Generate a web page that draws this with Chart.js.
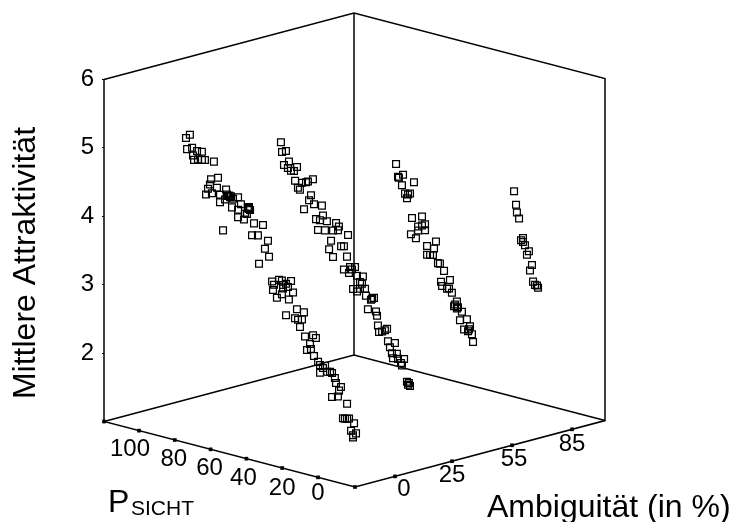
<!DOCTYPE html>
<html><head><meta charset="utf-8">
<style>html,body{margin:0;padding:0;background:#fff}canvas{display:block}</style>
<script src="https://cdn.jsdelivr.net/npm/chart.js@4"></script>
</head><body><canvas id="c" width="732" height="522"></canvas>
<script>
// P_SICHT (p) and Mittlere Attraktivitaet (z), one pair of lists per ambiguity level
const p0=[93.9,96.1,95.5,92.7,89.9,87.2,92.2,91.6,89.4,87.2,85.5,80.5,78.2,82.1,82.7,83.8,78.8,73.7,84.9,81.6,77.1,73.2,71.5,77.1,69.8,67.0,65.4,70.4,67.0,60.9,60.3,63.1,67.0,63.7,62.0,58.1,53.1,59.2,55.9,50.3,52.0,49.7,55.3,75.4,72.6,74.3,72.1,71.0,61.5,60.9,48.0,44.1,42.5,37.4,46.9,41.9,47.5,39.1,36.3,42.5,45.3,38.6,41.9,40.2,40.2,34.1,30.2,35.2,33.5,31.3,32.4,29.6,25.1,23.5,26.8,28.5,26.3,24.6,22.3,21.2,18.4,21.2,17.3,14.5,12.9,12.3,9.5,10.6,14.5,11.2,6.1,19.6,15.6,8.4,6.1,5.0,2.2,3.9,1.1,2.8,7.3,2.8];
const z0=[5.21,5.15,4.99,5.03,5.00,5.01,4.92,4.86,4.88,4.89,4.90,4.91,4.69,4.64,4.56,4.49,4.54,4.55,4.40,4.44,4.45,4.48,4.45,4.34,4.44,4.48,4.39,4.31,4.30,4.38,4.34,4.27,4.19,4.18,4.27,4.16,4.17,3.98,4.00,3.96,3.83,3.73,3.59,3.94,4.46,4.40,4.47,4.47,4.36,4.35,3.38,3.43,3.43,3.46,3.34,3.37,3.26,3.36,3.30,3.23,3.16,3.18,3.32,3.40,2.94,3.07,3.05,2.93,2.92,2.94,2.82,2.70,2.75,2.72,2.61,2.51,2.54,2.45,2.38,2.34,2.35,2.23,2.27,2.27,2.21,2.14,2.10,2.04,1.92,1.95,1.88,2.31,2.28,1.65,1.66,1.67,1.62,1.50,1.48,1.41,1.65,1.44];
const p25=[74.9,74.3,72.1,73.2,70.4,71.0,65.9,69.3,67.6,67.0,57.0,63.1,60.9,59.8,65.4,64.3,58.1,59.2,56.4,52.0,62.0,51.4,55.3,53.1,49.2,44.1,42.5,54.2,50.3,45.8,43.0,37.4,46.9,48.0,41.3,39.7,45.8,38.0,39.7,36.3,33.5,35.2,36.9,32.4,29.1,30.7,29.6,34.6,30.7,27.9,32.4,27.4,24.0,22.9,24.6,26.3,21.8,21.2,20.7,15.6,18.4,16.8,20.1,15.1,11.2,14.0,12.9,10.1,6.1,12.3,9.5,7.8,7.3,4.5,3.4,2.8,3.9];
const z25=[5.01,4.87,4.90,4.69,4.76,4.66,4.71,4.63,4.64,4.50,4.59,4.50,4.52,4.54,4.41,4.39,4.35,4.27,4.23,4.24,4.12,4.10,4.02,4.02,4.03,4.04,4.00,3.87,3.89,3.92,3.94,3.91,3.76,3.63,3.72,3.73,3.53,3.59,3.39,3.45,3.47,3.42,3.36,3.35,3.36,3.27,3.25,3.14,3.17,3.19,3.12,3.09,3.07,3.09,3.05,2.90,2.90,2.84,2.70,2.69,2.63,2.66,2.61,2.51,2.51,2.43,2.35,2.36,2.31,2.28,2.29,2.24,2.21,1.99,1.98,1.94,1.95];
const p55=[44.1,40.2,42.5,43.0,34.1,40.8,39.1,36.3,37.4,38.0,35.2,29.6,31.8,29.6,27.9,27.9,35.8,33.0,31.8,26.8,21.8,22.9,26.8,25.1,23.5,20.7,19.6,17.3,14.0,19.0,18.4,15.6,14.5,12.9,10.1,11.7,9.5,7.3,4.5,8.4,6.1,2.8,3.9,1.7,1.1,11.2,10.1,3.4];
const z55=[4.67,4.54,4.48,4.49,4.47,4.38,4.27,4.29,4.27,4.21,3.94,4.00,3.84,3.87,3.90,3.81,3.70,3.66,3.78,3.59,3.69,3.58,3.46,3.47,3.48,3.38,3.38,3.29,3.18,3.12,3.06,3.04,3.05,3.00,2.89,2.81,2.81,2.76,2.67,2.63,2.51,2.58,2.50,2.47,2.36,2.84,2.79,2.53];
const p85=[11.7,10.6,10.1,8.9,6.7,7.8,6.7,5.6,3.4,4.5,1.7,2.8,1.1,0,-1.7,-1.1];
const z85=[4.26,4.07,3.96,3.88,3.61,3.57,3.55,3.51,3.44,3.38,3.25,3.16,3.01,2.97,2.94,2.97];
const pTicks=[100,80,60,40,20,0];
const ambiguityTicks=[0,25,55,85];
const zTicks=[2,3,4,5,6];

// oblique projection of the 3D box onto the chart's two scales
const ambOffset={0:40,25:97,55:157,85:217};
const pDepth=p=>37+1.79*p;
const proj=(dP,dA,z)=>({x:dA-dP,y:z+(0.263*dP+0.268*dA-66)/69});
const strand=(ps,zs,a)=>ps.map((p,i)=>proj(pDepth(p),ambOffset[a],zs[i]));
const DP=251,DA=250,TOP=6;
const corner={L:proj(DP,0,1),F:proj(0,0,1),R:proj(0,DA,1),B:proj(DP,DA,1),LT:proj(DP,0,TOP),RT:proj(0,DA,TOP),BT:proj(DP,DA,TOP)};
const line=(pts)=>({type:'scatter',data:pts,showLine:true,borderColor:'#000',borderWidth:1.5,pointRadius:0,fill:false,clip:false,order:3});
const pts=(d)=>({data:d,pointStyle:'rect',pointRadius:4.8,borderWidth:1.25,pointBorderColor:'#000',pointBackgroundColor:'rgba(0,0,0,0)',clip:false,order:1});
const tickMarks=[...pTicks.map(p=>proj(pDepth(p),0,1)),...ambiguityTicks.map(a=>proj(0,ambOffset[a],1)),corner.L,corner.F];

const pOff=[[-9,19],[-1,19],[-1,19],[-3,20],[0,20],[0,16]];
const aOff=[[9,13],[0,14],[2,14],[0,15]];
const FONT='"Liberation Sans", Arial, sans-serif';
const labels={id:'labels',afterDatasetsDraw(ch){
  const {ctx,scales:{x,y}}=ch;
  ctx.save();ctx.fillStyle='#000';ctx.textAlign='center';ctx.textBaseline='middle';
  ctx.font='24px '+FONT;
  const put=(pt,t,o)=>ctx.fillText(t,x.getPixelForValue(pt.x)+o[0],y.getPixelForValue(pt.y)+o[1]);
  pTicks.forEach((p,i)=>put(proj(pDepth(p),0,1),String(p),pOff[i]));
  ambiguityTicks.forEach((a,i)=>put(proj(0,ambOffset[a],1),String(a),aOff[i]));
  ctx.save();ctx.translate(26,263);ctx.rotate(-Math.PI/2);ctx.font='32px '+FONT;ctx.fillText('Mittlere Attraktivität',0,0);ctx.restore();
  ctx.textAlign='left';ctx.textBaseline='alphabetic';
  ctx.font='32px '+FONT;ctx.fillText('P',108,512);
  ctx.font='21px '+FONT;ctx.fillText('SICHT',131,515);
  ctx.font='32px '+FONT;ctx.fillText('Ambiguität (in %)',487,517);
  ctx.restore();
}};

new Chart(document.getElementById('c'),{
  type:'scatter',
  data:{datasets:[
    pts(strand(p0,z0,0)),pts(strand(p25,z25,25)),pts(strand(p55,z55,55)),pts(strand(p85,z85,85)),
    line([corner.LT,corner.L,corner.F,corner.R,corner.RT,corner.BT,corner.LT]),
    line([corner.L,corner.B,corner.R]),
    line([corner.B,corner.BT]),
    {data:tickMarks,pointStyle:'rect',pointRadius:2.6,borderWidth:0,pointBackgroundColor:'#000',clip:false,order:2}
  ]},
  options:{
    responsive:false,animation:false,
    layout:{padding:{top:13,bottom:35,right:127,left:0}},
    plugins:{legend:{display:false},tooltip:{enabled:false}},
    scales:{
      x:{type:'linear',display:false,min:-251,max:250},
      y:{type:'linear',min:proj(0,0,1).y,max:proj(DP,DA,TOP).y,
        afterFit:s=>{s.width=104;s.paddingTop=0;s.paddingBottom=0},
        afterBuildTicks:s=>{s.ticks=zTicks.map(v=>({value:v}))},
        border:{display:false},
        grid:{drawOnChartArea:false,drawTicks:true,tickLength:2,color:'#000',lineWidth:1},
        ticks:{color:'#000',padding:8,font:{family:FONT,size:24},callback:v=>String(v)}
      }
    }
  },
  plugins:[labels]
});
</script></body></html>
